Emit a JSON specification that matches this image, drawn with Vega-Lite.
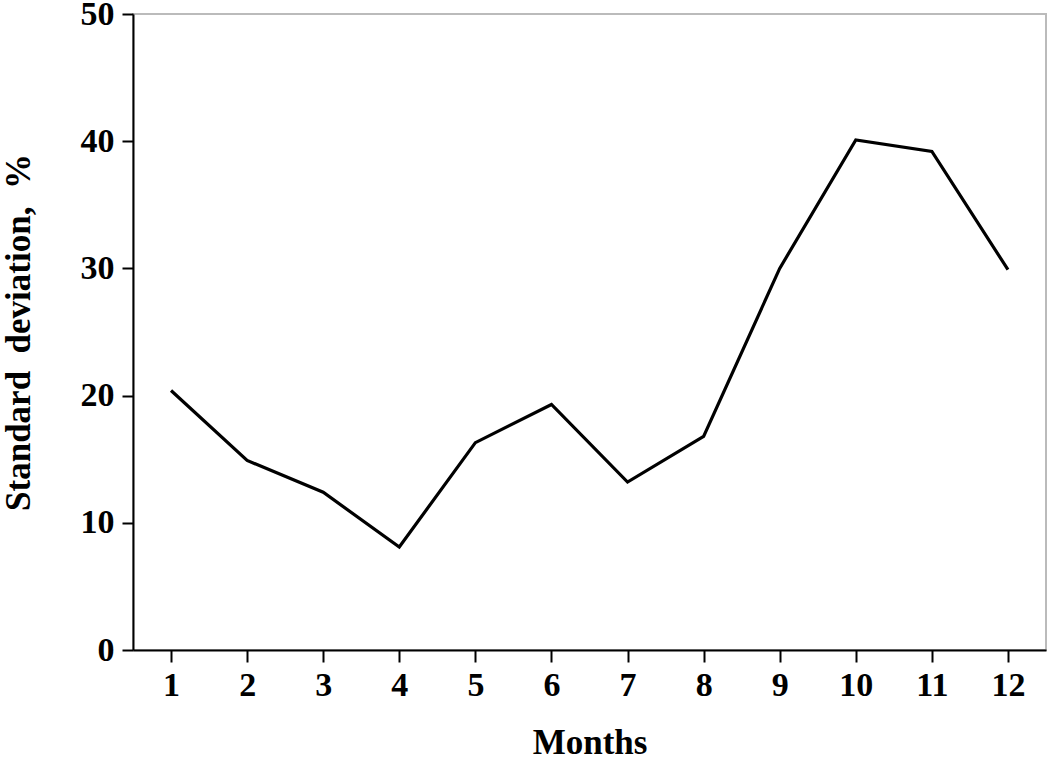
{
  "$schema": "https://vega.github.io/schema/vega-lite/v6.json",
  "autosize": "none",
  "width": 913,
  "height": 636,
  "padding": {"left": 133, "top": 14, "right": 4, "bottom": 111},
  "background": "white",
  "config": {
    "view": {"stroke": "#bbbbbb", "strokeWidth": 2},
    "font": "Liberation Serif"
  },
  "data": {"values": [
    {"month": 1, "sd": 20.4},
    {"month": 2, "sd": 14.9},
    {"month": 3, "sd": 12.4},
    {"month": 4, "sd": 8.1},
    {"month": 5, "sd": 16.3},
    {"month": 6, "sd": 19.3},
    {"month": 7, "sd": 13.2},
    {"month": 8, "sd": 16.8},
    {"month": 9, "sd": 30.0},
    {"month": 10, "sd": 40.1},
    {"month": 11, "sd": 39.2},
    {"month": 12, "sd": 29.9}
  ]},
  "mark": {"type": "line", "color": "black", "strokeWidth": 3.2},
  "encoding": {
    "x": {
      "field": "month", "type": "quantitative",
      "scale": {"domain": [0.5, 12.5], "nice": false, "zero": false},
      "axis": {
        "title": "Months", "values": [1,2,3,4,5,6,7,8,9,10,11,12],
        "grid": false, "domainColor": "black", "domainWidth": 2,
        "tickColor": "black", "tickWidth": 2, "tickSize": 12,
        "labelFont": "Liberation Serif", "labelFontSize": 34, "labelFontWeight": "bold", "labelColor": "black", "labelPadding": 6,
        "titleFont": "Liberation Serif", "titleFontSize": 35, "titleFontWeight": "bold", "titleColor": "black", "titlePadding": 23
      }
    },
    "y": {
      "field": "sd", "type": "quantitative",
      "scale": {"domain": [0, 50], "nice": false},
      "axis": {
        "title": "Standard\u00a0\u00a0deviation,\u00a0\u00a0%\u00a0\u00a0", "values": [0,10,20,30,40,50],
        "grid": false, "domainColor": "black", "domainWidth": 2,
        "tickColor": "black", "tickWidth": 2, "tickSize": 11,
        "labelFont": "Liberation Serif", "labelFontSize": 34, "labelFontWeight": "bold", "labelColor": "black", "labelPadding": 8,
        "titleFont": "Liberation Serif", "titleFontSize": 35, "titleFontWeight": "bold", "titleColor": "black", "titlePadding": 44
      }
    }
  }
}
